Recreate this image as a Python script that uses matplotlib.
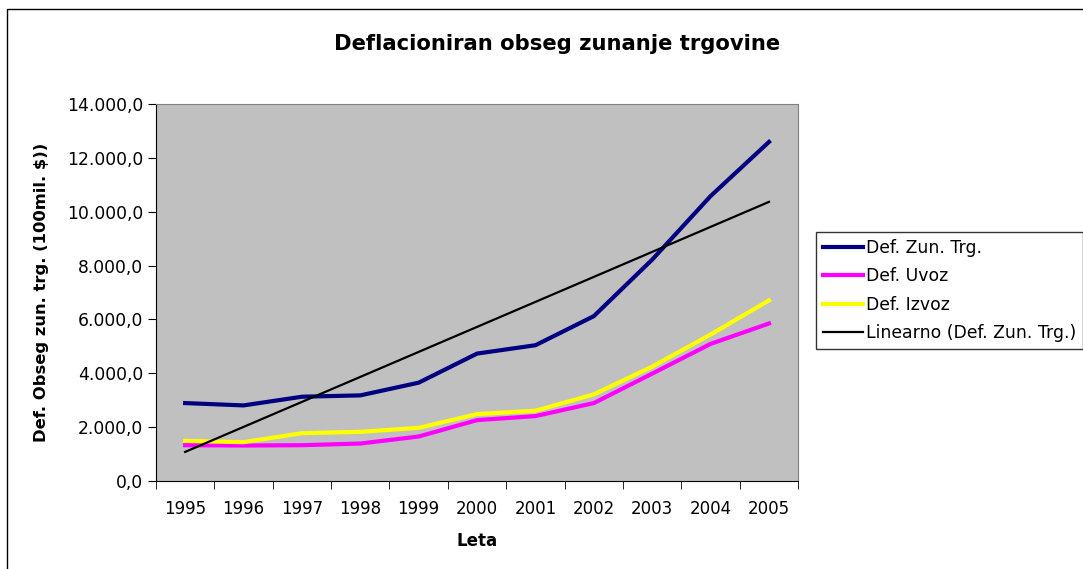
import numpy as np
import matplotlib.pyplot as plt
from matplotlib.patches import Rectangle
from matplotlib.ticker import FuncFormatter, FixedLocator

# the reference text is wide, DejaVu Sans matches its width better than Arial
plt.rcParams["font.family"] = ["DejaVu Sans"]

years = ["1995", "1996", "1997", "1998", "1999", "2000", "2001", "2002", "2003", "2004", "2005"]
zun_trg = [2894, 2807, 3130, 3180, 3652, 4733, 5043, 6124, 8224, 10584, 12596]
uvoz = [1329, 1317, 1329, 1391, 1652, 2261, 2410, 2894, 3988, 5093, 5851]
izvoz = [1491, 1441, 1776, 1826, 1975, 2484, 2609, 3217, 4248, 5441, 6708]


def fmt_value(v, pos):
    s = f"{v:,.1f}"
    return s.replace(",", "X").replace(".", ",").replace("X", ".")


x = np.arange(len(years))
slope, intercept = np.polyfit(x, zun_trg, 1)
trend = slope * x + intercept

fig = plt.figure(figsize=(10.83, 5.69), dpi=100)
fig.patch.set_facecolor("white")
fig.add_artist(Rectangle((7 / 1083, -0.1), 1.2, 1.1 - 9 / 569,
                         transform=fig.transFigure, fill=False,
                         edgecolor="black", linewidth=1.0))

ax = fig.add_axes([0.144, 0.1547, 0.593, 0.6623])
ax.set_facecolor("#C0C0C0")

ax.plot(x, zun_trg, color="#000080", linewidth=3, label="Def. Zun. Trg.")
ax.plot(x, uvoz, color="#FF00FF", linewidth=3, label="Def. Uvoz")
ax.plot(x, izvoz, color="#FFFF00", linewidth=3, label="Def. Izvoz")
ax.plot(x, trend, color="black", linewidth=1.6, label="Linearno (Def. Zun. Trg.)")

ax.set_xlim(-0.5, len(years) - 0.5)
ax.set_ylim(0, 14000)
ax.set_yticks(np.arange(0, 14001, 2000))
ax.yaxis.set_major_formatter(FuncFormatter(fmt_value))

ax.set_xticks(x)
ax.set_xticklabels(years)
ax.xaxis.set_minor_locator(FixedLocator(np.arange(-0.5, len(years), 1.0)))
ax.tick_params(axis="x", which="major", length=0, pad=14, labelsize=12)
ax.tick_params(axis="x", which="minor", length=6, direction="out", color="black")
ax.tick_params(axis="y", length=6, direction="out", labelsize=12.3, pad=3)

for side in ["top", "right"]:
    ax.spines[side].set_color("#808080")
for side in ["left", "bottom"]:
    ax.spines[side].set_color("black")

ax.set_xlabel("Leta", fontsize=12, fontweight="bold", labelpad=10)
ax.set_ylabel("Def. Obseg zun. trg. (100mil. $))", fontsize=11.8, fontweight="bold", labelpad=13)
fig.text(0.514, 0.922, "Deflacioniran obseg zunanje trgovine", ha="center", va="center",
         fontsize=15.2, fontweight="bold")

leg = fig.legend(loc="upper left", bbox_to_anchor=(0.7535, 0.592), fontsize=12.4,
                 frameon=True, fancybox=False, edgecolor="black", handlelength=2.3,
                 handletextpad=0.2, labelspacing=0.6, borderpad=0.4, borderaxespad=0)
leg.get_frame().set_linewidth(1.0)

fig.savefig("out.png", dpi=100)
